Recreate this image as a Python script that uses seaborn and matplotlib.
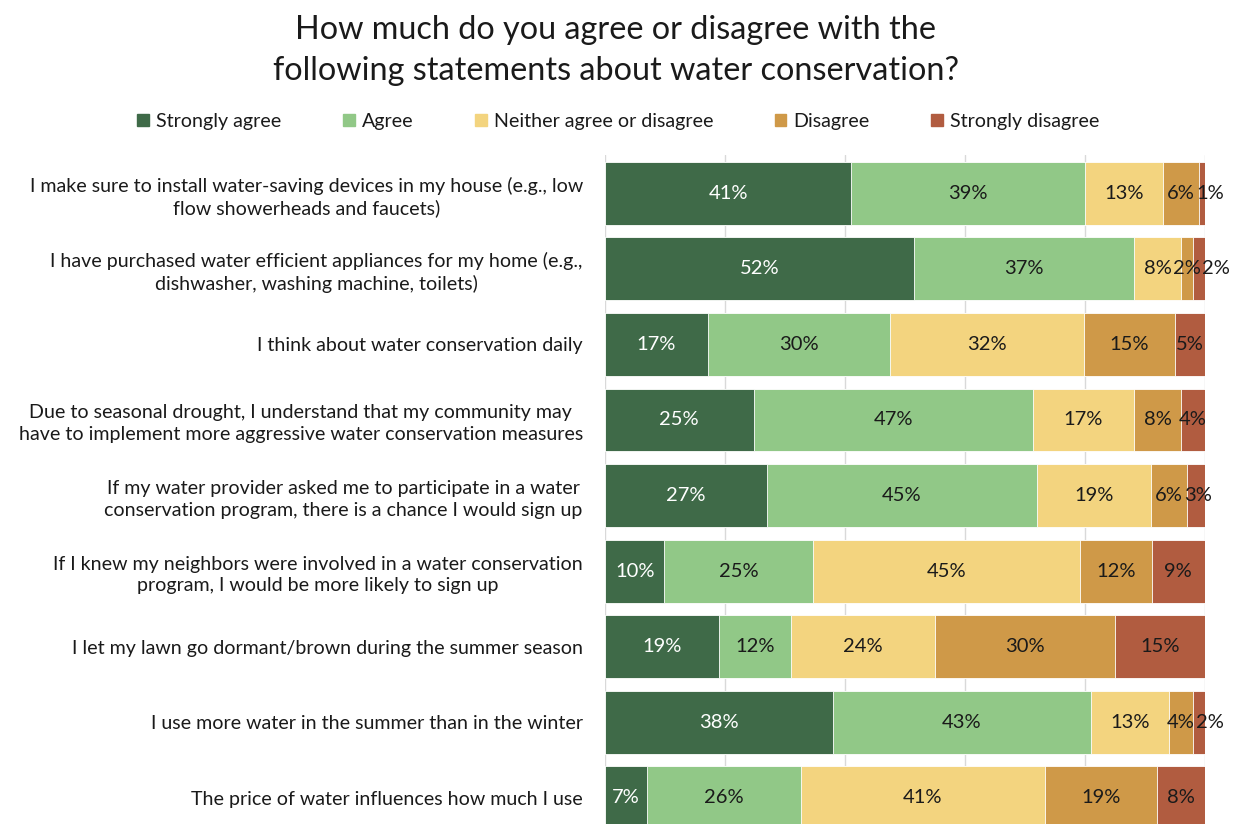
import numpy as np
import pandas as pd
import matplotlib
matplotlib.use("Agg")
import matplotlib.pyplot as plt
import seaborn as sns

statements = [
    "I make sure to install water-saving devices in my house (e.g., low\nflow showerheads and faucets)",
    "I have purchased water efficient appliances for my home (e.g.,\ndishwasher, washing machine, toilets)",
    "I think about water conservation daily",
    "Due to seasonal drought, I understand that my community may\nhave to implement more aggressive water conservation measures",
    "If my water provider asked me to participate in a water\nconservation program, there is a chance I would sign up",
    "If I knew my neighbors were involved in a water conservation\nprogram, I would be more likely to sign up",
    "I let my lawn go dormant/brown during the summer season",
    "I use more water in the summer than in the winter",
    "The price of water influences how much I use",
]

responses = ["Strongly agree", "Agree", "Neither agree or disagree",
             "Disagree", "Strongly disagree"]

strongly_agree = [41, 52, 17, 25, 27, 10, 19, 38, 7]
agree = [39, 37, 30, 47, 45, 25, 12, 43, 26]
neither = [13, 8, 32, 17, 19, 45, 24, 13, 41]
disagree = [6, 2, 15, 8, 6, 12, 30, 4, 19]
strongly_disagree = [1, 2, 5, 4, 3, 9, 15, 2, 8]

colors = ["#3F6A48", "#91C887", "#F3D47F", "#CF9948", "#B15C40"]
label_colors = ["white", "#1A1A1A", "#1A1A1A", "#1A1A1A", "#1A1A1A"]

sns.set_theme(style="white")
plt.rcParams["font.family"] = ["Lato", "DejaVu Sans"]

df = pd.DataFrame({"Statement": statements,
                   responses[0]: strongly_agree,
                   responses[1]: agree,
                   responses[2]: neither,
                   responses[3]: disagree,
                   responses[4]: strongly_disagree})

# 100% stacked: each row expressed as share of its own total
vals = df[responses].to_numpy(dtype=float)
shares = vals / vals.sum(axis=1, keepdims=True) * 100
cum = np.cumsum(shares, axis=1)

fig = plt.figure(figsize=(12.33, 8.24), dpi=100)
ax = fig.add_axes([0.4907, -0.0143, 0.4866, 0.8257])

# draw cumulative layers back to front so each segment shows
for i in range(len(responses) - 1, -1, -1):
    layer = pd.DataFrame({"Statement": statements, "cum": cum[:, i]})
    sns.barplot(data=layer, x="cum", y="Statement", orient="h",
                color=colors[i], saturation=1, width=0.833,
                edgecolor="white", linewidth=0.6, ax=ax, zorder=2)

ax.set_xlim(0, 100)
ax.set_ylim(len(statements) - 0.5, -0.5)
ax.set_xticks(np.arange(0, 101, 20))
ax.xaxis.grid(True, color="#D9D9D9", linewidth=1.0, zorder=0)
ax.set_axisbelow(True)
ax.tick_params(axis="x", labelbottom=False, length=0)
ax.tick_params(axis="y", length=0, pad=16, labelsize=14.1)
for lab in ax.get_yticklabels():
    lab.set_multialignment("center")
    lab.set_linespacing(1.32)
    lab.set_color("#1A1A1A")
ax.set_xlabel("")
ax.set_ylabel("")
for s in ax.spines.values():
    s.set_visible(False)

# segment labels, centred in each segment
labels = []
for r in range(len(statements)):
    row = []
    for i in range(len(responses)):
        centre = cum[r, i] - shares[r, i] / 2
        t = ax.text(centre, r, f"{int(vals[r, i])}%", ha="center",
                    va="center", fontsize=14.5, color=label_colors[i],
                    zorder=5)
        row.append(t)
    labels.append(row)

# push crowded labels rightwards so neighbours do not collide
fig.canvas.draw()
renderer = fig.canvas.get_renderer()
inv = ax.transData.inverted()
for row in labels:
    prev_right = None
    for t in row:
        bb = t.get_window_extent(renderer)
        if prev_right is not None and bb.x0 < prev_right + 1:
            shift = prev_right + 1 - bb.x0
            x_disp = ax.transData.transform((t.get_position()[0], 0))[0] + shift
            t.set_x(inv.transform((x_disp, 0))[0])
            bb = t.get_window_extent(renderer)
        prev_right = bb.x1

handles = [plt.Rectangle((0, 0), 1, 1, color=c) for c in colors]
fig.legend(handles, responses, loc="center", bbox_to_anchor=(0.5015, 0.853),
           ncol=5, frameon=False, fontsize=14.1, handlelength=0.6,
           handleheight=0.6, handletextpad=0.35, columnspacing=3.15,
           labelcolor="#1A1A1A")

fig.text(0.4995, 0.939,
         "How much do you agree or disagree with the\nfollowing statements about water conservation?",
         ha="center", va="center", fontsize=23.3, color="#1A1A1A",
         linespacing=1.45)

fig.savefig("out.png", dpi=100)
